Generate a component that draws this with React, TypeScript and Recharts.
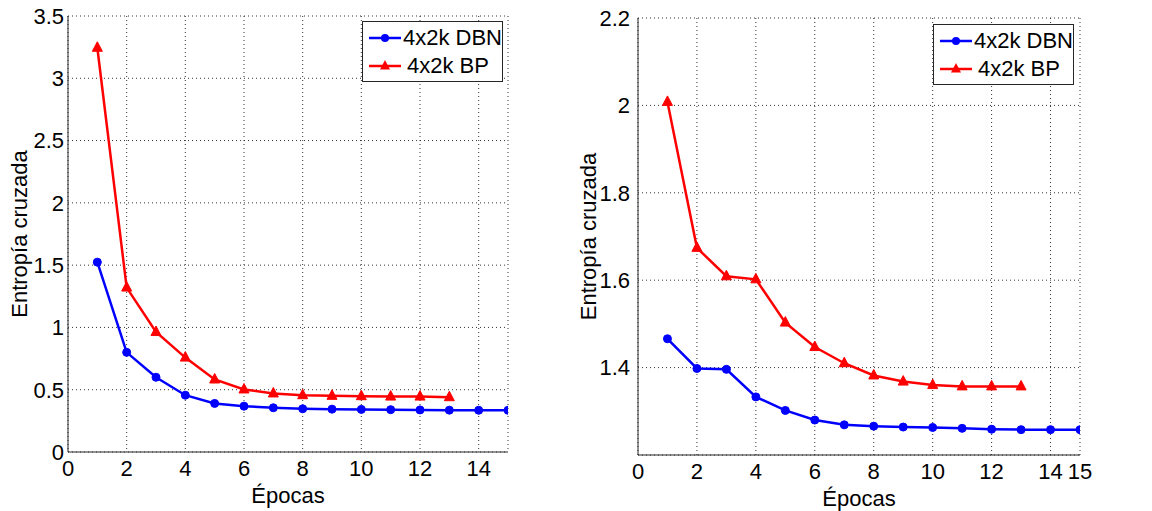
import React from 'react';
import { LineChart, Line, XAxis, YAxis, CartesianGrid, Legend } from 'recharts';

const epochs = [1, 2, 3, 4, 5, 6, 7, 8, 9, 10, 11, 12, 13, 14, 15];

// panel izquierdo
const leftDbn = [1.524, 0.8, 0.6, 0.456, 0.39, 0.368, 0.355, 0.347, 0.344, 0.342, 0.34, 0.338, 0.336, 0.335, 0.335];
const leftBp = [3.245, 1.32, 0.963, 0.758, 0.582, 0.502, 0.47, 0.456, 0.451, 0.448, 0.445, 0.445, 0.44];

// panel derecho
const rightDbn = [1.466, 1.398, 1.396, 1.333, 1.302, 1.28, 1.269, 1.266, 1.264, 1.263, 1.261, 1.259, 1.258, 1.258, 1.258];
const rightBp = [2.008, 1.674, 1.609, 1.602, 1.503, 1.447, 1.41, 1.382, 1.368, 1.36, 1.357, 1.357, 1.357];

const leftXTicks = [0, 2, 4, 6, 8, 10, 12, 14];
const rightXTicks = [0, 2, 4, 6, 8, 10, 12, 14, 15];
const leftYTicks = [0, 0.5, 1, 1.5, 2, 2.5, 3, 3.5];
const rightYTicks = [1.4, 1.6, 1.8, 2, 2.2];

const dbnName = '4x2k DBN';
const bpName = '4x2k BP';
const xLabel = 'Épocas';
const yLabel = 'Entropía cruzada';

const BLUE = '#0000ff';
const RED = '#ff0000';
const AXIS = '#262626';
const FONT = '"Liberation Sans", Arial, Helvetica, sans-serif';

const buildRows = (dbn: number[], bp: number[]) =>
  epochs.map((e, i) => ({ epoch: e, dbn: dbn[i] ?? null, bp: bp[i] ?? null }));

const Triangle = (props: any) => {
  const { cx, cy, index } = props;
  if (cx == null || cy == null) return <g key={`t-${index}`} />;
  return (
    <polygon
      key={`t-${index}`}
      points={`${cx},${cy - 6} ${cx - 5},${cy + 3.5} ${cx + 5},${cy + 3.5}`}
      fill={RED}
      stroke={RED}
      strokeWidth={1}
    />
  );
};

const LegendBox = () => (
  <div
    style={{
      border: `1px solid ${AXIS}`,
      background: '#fff',
      width: 139,
      height: 59,
      fontFamily: FONT,
      fontSize: 22,
      color: '#000',
      boxSizing: 'content-box',
    }}
  >
    {[
      { name: dbnName, color: BLUE, marker: 'circle' },
      { name: bpName, color: RED, marker: 'tri' },
    ].map((it, i) => (
      <div key={it.name} style={{ display: 'flex', alignItems: 'center', height: 28, marginTop: i === 0 ? 2 : 0 }}>
        <svg width={40} height={20} style={{ marginLeft: 4 }}>
          <line x1={2} y1={10} x2={34} y2={10} stroke={it.color} strokeWidth={2.5} />
          {it.marker === 'circle' ? (
            <circle cx={18} cy={10} r={4} fill={it.color} />
          ) : (
            <polygon points="18,4 13,13.5 23,13.5" fill={it.color} />
          )}
        </svg>
        <span style={{ marginLeft: 0, whiteSpace: 'nowrap' }}>{it.name}</span>
      </div>
    ))}
  </div>
);

interface PanelProps {
  width: number;
  dbn: number[];
  bp: number[];
  yDomain: [number, number];
  yTicks: number[];
  xTicks: number[];
  margin: { top: number; right: number; bottom: number; left: number };
  yAxisWidth: number;
  xAxisHeight: number;
  yTickMargin: number;
  xTickMargin: number;
  yLabelDx: number;
  xLabelOffset: number;
  legendLeft: number;
  legendTop: number;
}

function Panel(p: PanelProps) {
  const rows = buildRows(p.dbn, p.bp);
  const tickStyle = { fontSize: 22, fill: '#000', fontFamily: FONT };
  return (
    <LineChart width={p.width} height={511} data={rows} margin={p.margin}>
      <CartesianGrid stroke="#333" strokeDasharray="1 3" strokeWidth={1} />
      <XAxis
        type="number"
        dataKey="epoch"
        domain={[0, 15]}
        ticks={p.xTicks}
        allowDataOverflow
        interval={0}
        stroke={AXIS}
        tickLine={false}
        tickSize={0}
        tickMargin={p.xTickMargin}
        height={p.xAxisHeight}
        tick={tickStyle}
        label={{ value: xLabel, position: 'insideBottom', offset: p.xLabelOffset, style: { fontSize: 22, fill: '#000', fontFamily: FONT } }}
      />
      <XAxis xAxisId="top" orientation="top" type="number" domain={[0, 15]} allowDataOverflow tick={false} tickLine={false} height={0} stroke={AXIS} />
      <YAxis
        type="number"
        domain={p.yDomain}
        ticks={p.yTicks}
        allowDataOverflow
        interval={0}
        stroke={AXIS}
        tickLine={false}
        tickSize={0}
        tickMargin={p.yTickMargin}
        width={p.yAxisWidth}
        tick={tickStyle}
        label={{ value: yLabel, angle: -90, position: 'center', dx: p.yLabelDx, style: { fontSize: 22, fill: '#000', fontFamily: FONT, textAnchor: 'middle' } }}
      />
      <YAxis yAxisId="right" orientation="right" type="number" domain={p.yDomain} allowDataOverflow tick={false} tickLine={false} width={0} stroke={AXIS} />
      <Legend
        layout="horizontal"
        verticalAlign="middle"
        align="center"
        content={() => <LegendBox />}
        wrapperStyle={{ position: 'absolute', left: p.legendLeft, top: p.legendTop, width: 141, height: 61 }}
      />
      <Line
        name={dbnName}
        dataKey="dbn"
        stroke={BLUE}
        strokeWidth={2.5}
        dot={{ r: 4, fill: BLUE, stroke: BLUE, strokeWidth: 1 }}
        activeDot={false}
        isAnimationActive={false}
      />
      <Line
        name={bpName}
        dataKey="bp"
        stroke={RED}
        strokeWidth={2.5}
        dot={Triangle}
        activeDot={false}
        isAnimationActive={false}
      />
    </LineChart>
  );
}

export default function App() {
  return (
    <div style={{ position: 'absolute', left: 0, top: 0, width: 1152, height: 511, background: '#fff' }}>
      <div style={{ position: 'absolute', left: 0, top: 0 }}>
        <Panel
          width={575}
          dbn={leftDbn}
          bp={leftBp}
          yDomain={[0, 3.5]}
          yTicks={leftYTicks}
          xTicks={leftXTicks}
          margin={{ top: 16, right: 67, bottom: 0, left: 0 }}
          yAxisWidth={68}
          xAxisHeight={59}
          yTickMargin={4}
          xTickMargin={8}
          yLabelDx={-15}
          xLabelOffset={8}
          legendLeft={362}
          legendTop={21}
        />
      </div>
      <div style={{ position: 'absolute', left: 575, top: 0 }}>
        <Panel
          width={577}
          dbn={rightDbn}
          bp={rightBp}
          yDomain={[1.2, 2.2]}
          yTicks={rightYTicks}
          xTicks={rightXTicks}
          margin={{ top: 18, right: 72, bottom: 0, left: 0 }}
          yAxisWidth={63}
          xAxisHeight={56}
          yTickMargin={8}
          xTickMargin={8}
          yLabelDx={-18}
          xLabelOffset={5}
          legendLeft={358}
          legendTop={24}
        />
      </div>
    </div>
  );
}
